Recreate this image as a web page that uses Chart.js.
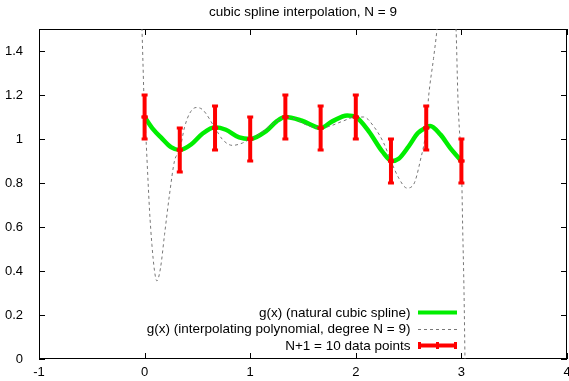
<!DOCTYPE html>
<html>
<head>
<meta charset="utf-8">
<script src="https://cdn.jsdelivr.net/npm/chart.js@4/dist/chart.umd.min.js"></script>
<style>
html, body { margin: 0; padding: 0; background: #fff; }
</style>
</head>
<body>
<canvas id="myChartCanvas" width="569" height="381"></canvas>
<script>
// data points with error bars
let pointsX = [0, 0.333, 0.667, 1, 1.333, 1.667, 2, 2.333, 2.667, 3];
let pointsY = [1.1, 0.95, 1.05, 1.0, 1.1, 1.05, 1.1, 0.9, 1.05, 0.9];
let pointsErr = [0.1, 0.1, 0.1, 0.1, 0.1, 0.1, 0.1, 0.1, 0.1, 0.1];

// natural cubic spline
let splineX = [0, 0.08, 0.157, 0.25, 0.333, 0.44, 0.55, 0.667, 0.77, 0.896, 1.0, 1.148, 1.25, 1.333,
    1.49, 1.667, 1.777, 1.918, 2.0, 2.123, 2.25, 2.343, 2.406, 2.5, 2.588, 2.667, 2.704, 2.8, 2.893, 3.0];
let splineY = [1.1, 1.045, 1.006, 0.963, 0.95, 0.975, 1.025, 1.053, 1.042, 1.007, 1.0, 1.035, 1.08, 1.1,
    1.083, 1.05, 1.08, 1.107, 1.1, 1.035, 0.944, 0.9, 0.91, 0.966, 1.027, 1.052, 1.059, 1.021, 0.96, 0.9];

// interpolating polynomial (degree 9)
let polyX = [-0.05, -0.025, -0.016, -0.007, 0.003, 0.016, 0.031, 0.047, 0.069, 0.094, 0.116, 0.151, 0.189,
    0.236, 0.283, 0.333, 0.377, 0.425, 0.487, 0.55, 0.667, 0.739, 0.833, 0.928, 1.0, 1.1, 1.21, 1.333,
    1.43, 1.55, 1.667, 1.745, 1.871, 2.0, 2.075, 2.17, 2.264, 2.333, 2.406, 2.484, 2.547, 2.61, 2.667,
    2.689, 2.736, 2.767, 2.86, 2.95, 2.966, 2.98, 3.0, 3.012, 3.025, 3.034, 3.045];
let polyY = [1.75, 1.498, 1.355, 1.203, 1.1, 0.975, 0.824, 0.673, 0.521, 0.4, 0.355, 0.415, 0.566,
    0.748, 0.9, 0.95, 1.051, 1.115, 1.143, 1.133, 1.05, 0.997, 0.971, 0.982, 1.0, 1.027, 1.068, 1.1,
    1.09, 1.06, 1.05, 1.057, 1.08, 1.1, 1.1, 1.057, 0.982, 0.9, 0.823, 0.777, 0.793, 0.9, 1.05,
    1.19, 1.366, 1.49, 2.0, 1.49, 1.203, 1.05, 0.9, 0.6, 0.3, 0.0, -0.3];

let titleText = 'cubic spline interpolation, N = 9';
let legendLabels = ['g(x) (natural cubic spline)', 'g(x) (interpolating polynomial, degree N = 9)', 'N+1 = 10 data points'];

const FAMILY = '"Liberation Sans", Arial, sans-serif';
const GREEN = '#00ee00';
const RED = '#ff0000';
const GREY = '#777777';

function toXY(xs, ys) {
    return xs.map((v, i) => ({ x: v, y: ys[i] }));
}

function tickLabel(v) {
    return String(Number(v.toFixed(1)));
}

// border with gnuplot style inward ticks, x tick labels
const frameTicks = {
    id: 'frameTicks',
    beforeDatasetsDraw(chart) {
        const { ctx, chartArea: a, scales: { x, y } } = chart;
        ctx.save();
        ctx.strokeStyle = '#000';
        ctx.lineWidth = 1;
        ctx.strokeRect(a.left + 0.5, a.top + 0.5, a.right - a.left - 1, a.bottom - a.top - 1);
        ctx.beginPath();
        x.ticks.forEach(t => {
            const px = Math.round(x.getPixelForValue(t.value)) + 0.5;
            ctx.moveTo(px, a.bottom); ctx.lineTo(px, a.bottom - 6);
            ctx.moveTo(px, a.top); ctx.lineTo(px, a.top + 6);
        });
        y.ticks.forEach(t => {
            const py = Math.round(y.getPixelForValue(t.value)) + 0.5;
            ctx.moveTo(a.left, py); ctx.lineTo(a.left + 6, py);
            ctx.moveTo(a.right, py); ctx.lineTo(a.right - 6, py);
        });
        ctx.stroke();

        ctx.font = '13px ' + FAMILY;
        ctx.fillStyle = '#000';
        ctx.textAlign = 'center';
        ctx.textBaseline = 'middle';
        x.ticks.forEach(t => {
            ctx.fillText(tickLabel(t.value), x.getPixelForValue(t.value), a.bottom + 13.5);
        });
        ctx.restore();
    }
};

// vertical error bars on the data points
const errorBars = {
    id: 'errorBars',
    afterDatasetsDraw(chart) {
        const { ctx, scales: { y } } = chart;
        const meta = chart.getDatasetMeta(2);
        ctx.save();
        ctx.strokeStyle = RED;
        ctx.fillStyle = RED;
        ctx.lineWidth = 4;
        meta.data.forEach((pt, i) => {
            const top = y.getPixelForValue(pointsY[i] + pointsErr[i]);
            const bottom = y.getPixelForValue(pointsY[i] - pointsErr[i]);
            ctx.beginPath();
            ctx.moveTo(pt.x, top);
            ctx.lineTo(pt.x, bottom);
            ctx.stroke();
            ctx.fillRect(pt.x - 3, top - 1.5, 6, 3);
            ctx.fillRect(pt.x - 3, bottom - 1.5, 6, 3);
            ctx.fillRect(pt.x - 3, pt.y - 1.5, 6, 3);
        });
        ctx.restore();
    }
};

// title and key drawn the gnuplot way
const titleAndKey = {
    id: 'titleAndKey',
    afterDraw(chart) {
        const { ctx, chartArea: a } = chart;
        ctx.save();
        ctx.font = '13.5px ' + FAMILY;
        ctx.fillStyle = '#000';
        ctx.textBaseline = 'middle';
        ctx.textAlign = 'center';
        ctx.fillText(titleText, (a.left + a.right) / 2, 12);

        const textRight = 410.5;
        const sx0 = 418, sx1 = 457;
        const rows = [312.5, 329, 345.5];
        ctx.textAlign = 'right';
        legendLabels.forEach((label, i) => ctx.fillText(label, textRight, rows[i] + 0.5));

        ctx.lineWidth = 4;
        ctx.strokeStyle = GREEN;
        ctx.beginPath(); ctx.moveTo(sx0, rows[0]); ctx.lineTo(sx1, rows[0]); ctx.stroke();

        ctx.lineWidth = 1;
        ctx.strokeStyle = GREY;
        ctx.setLineDash([3, 3]);
        ctx.beginPath(); ctx.moveTo(sx0, rows[1] + 0.5); ctx.lineTo(sx1, rows[1] + 0.5); ctx.stroke();
        ctx.setLineDash([]);

        ctx.lineWidth = 4;
        ctx.strokeStyle = RED;
        ctx.fillStyle = RED;
        ctx.beginPath(); ctx.moveTo(sx0, rows[2]); ctx.lineTo(sx1, rows[2]); ctx.stroke();
        [sx0 + 1.5, (sx0 + sx1) / 2, sx1 - 1.5].forEach(px => ctx.fillRect(px - 1.5, rows[2] - 3.5, 3, 7));
        ctx.restore();
    }
};

let ctx = document.getElementById('myChartCanvas').getContext('2d');
let chart = new Chart(ctx, {
    type: 'scatter',
    data: {
        datasets: [{
            data: toXY(splineX, splineY),
            showLine: true,
            borderColor: GREEN,
            borderWidth: 4.5,
            pointRadius: 0,
            cubicInterpolationMode: 'monotone',
            order: 3
        }, {
            data: toXY(polyX, polyY),
            showLine: true,
            borderColor: GREY,
            borderWidth: 1,
            borderDash: [3, 3],
            pointRadius: 0,
            cubicInterpolationMode: 'monotone',
            order: 2
        }, {
            data: toXY(pointsX, pointsY),
            showLine: false,
            pointStyle: 'line',
            pointRadius: 3,
            pointBorderWidth: 3,
            borderColor: RED,
            backgroundColor: RED,
            order: 1
        }]
    },
    options: {
        responsive: false,
        animation: false,
        layout: {
            autoPadding: false,
            padding: { top: 29, right: 2, left: 0, bottom: 0 }
        },
        plugins: {
            legend: { display: false },
            title: { display: false },
            tooltip: { enabled: false }
        },
        scales: {
            x: {
                type: 'linear',
                min: -1,
                max: 4,
                grid: { display: false },
                border: { display: false },
                ticks: {
                    stepSize: 1,
                    display: false
                },
                afterFit: function (scale) {
                    scale.height = 22;
                    scale.paddingLeft = 0;
                    scale.paddingRight = 0;
                }
            },
            y: {
                type: 'linear',
                min: 0,
                max: 1.5,
                grid: { display: false },
                border: { display: false },
                ticks: {
                    stepSize: 0.2,
                    includeBounds: false,
                    color: '#000',
                    font: { family: FAMILY, size: 13 },
                    padding: 8,
                    callback: tickLabel
                },
                afterFit: function (scale) {
                    scale.width = 39;
                    scale.paddingTop = 0;
                    scale.paddingBottom = 0;
                }
            }
        }
    },
    plugins: [frameTicks, errorBars, titleAndKey]
});
</script>
</body>
</html>
